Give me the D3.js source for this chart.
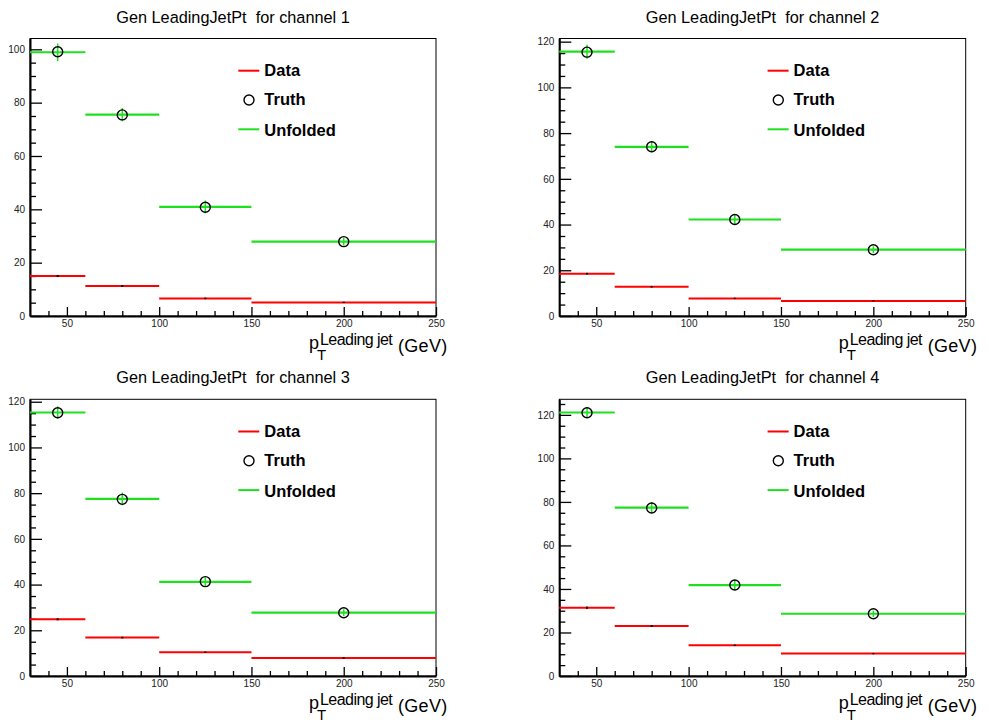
<!DOCTYPE html>
<html><head><meta charset="utf-8">
<script src="https://cdn.jsdelivr.net/npm/d3@7"></script>
<style>
body{margin:0;background:#fff}
svg{display:block}
text{font-family:"Liberation Sans",Arial,Helvetica,sans-serif}
</style>
</head><body>
<svg id="c" width="989" height="722"></svg>
<script>
// ---------------- data ----------------
const binEdges = [30, 60, 100, 150, 250];
const xTickValues = [50, 100, 150, 200, 250];
const titles = ["Gen LeadingJetPt  for channel 1", "Gen LeadingJetPt  for channel 2",
                "Gen LeadingJetPt  for channel 3", "Gen LeadingJetPt  for channel 4"];
const legendLabels = ["Data", "Truth", "Unfolded"];

const dataCh1 = [15.0, 11.25, 6.6, 5.1];
const dataErrCh1 = [0.4, 0.35, 0.3, 0.25];
const truthCh1 = [99.1, 75.4, 40.8, 27.9];
const unfoldedCh1 = [98.9, 75.5, 40.9, 27.9];
const unfoldedErrCh1 = [3.3, 2.5, 2.4, 1.5];

const dataCh2 = [18.5, 12.8, 7.7, 6.6];
const dataErrCh2 = [0.4, 0.35, 0.3, 0.25];
const truthCh2 = [115.4, 74.0, 42.2, 29.0];
const unfoldedCh2 = [115.6, 74.0, 42.2, 29.0];
const unfoldedErrCh2 = [3.1, 2.4, 2.4, 1.5];

const dataCh3 = [24.8, 16.8, 10.4, 7.9];
const dataErrCh3 = [0.45, 0.4, 0.3, 0.3];
const truthCh3 = [115.2, 77.3, 41.3, 27.7];
const unfoldedCh3 = [115.3, 77.5, 41.2, 27.7];
const unfoldedErrCh3 = [2.7, 2.8, 2.0, 1.5];

const dataCh4 = [31.4, 23.0, 14.1, 10.3];
const dataErrCh4 = [0.5, 0.45, 0.35, 0.3];
const truthCh4 = [121.0, 77.2, 41.8, 28.6];
const unfoldedCh4 = [121.1, 77.4, 41.8, 28.6];
const unfoldedErrCh4 = [2.4, 2.5, 2.3, 1.5];

const channels = [
  {title: titles[0], data: dataCh1, dataErr: dataErrCh1, truth: truthCh1, unf: unfoldedCh1, unfErr: unfoldedErrCh1},
  {title: titles[1], data: dataCh2, dataErr: dataErrCh2, truth: truthCh2, unf: unfoldedCh2, unfErr: unfoldedErrCh2},
  {title: titles[2], data: dataCh3, dataErr: dataErrCh3, truth: truthCh3, unf: unfoldedCh3, unfErr: unfoldedErrCh3},
  {title: titles[3], data: dataCh4, dataErr: dataErrCh4, truth: truthCh4, unf: unfoldedCh4, unfErr: unfoldedErrCh4}
];

// ---------------- layout ----------------
const frames = [
  {left: 30, right: 436, top: 38.5, bottom: 316},
  {left: 559.3, right: 965.7, top: 38.5, bottom: 316},
  {left: 30, right: 436, top: 399.3, bottom: 676},
  {left: 559.3, right: 965.7, top: 399.3, bottom: 676}
];
const RED = "#ff0000", GREEN = "#1fe01f";

const svg = d3.select("#c");

channels.forEach((ch, i) => {
  const f = frames[i];
  const g = svg.append("g");
  const yMax = 1.05 * d3.max(ch.truth.concat(ch.unf));
  const x = d3.scaleLinear().domain([binEdges[0], binEdges[binEdges.length - 1]]).range([f.left, f.right]);
  const y = d3.scaleLinear().domain([0, yMax]).range([f.bottom, f.top]);

  // title
  g.append("text").attr("x", (f.left + f.right) / 2).attr("y", f.top - 16)
    .attr("text-anchor", "middle").style("white-space", "pre")
    .attr("font-size", 16.3).attr("fill", "#000").text(ch.title);

  // frame
  g.append("rect").attr("x", f.left).attr("y", f.top)
    .attr("width", f.right - f.left).attr("height", f.bottom - f.top)
    .attr("fill", "none").attr("stroke", "#000").attr("stroke-width", 1);

  // y axis
  const yMajor = d3.range(0, yMax, 20);
  const yMinor = d3.range(0, yMax, 5).filter(v => v % 20 !== 0);
  const yAx = g.append("g").attr("transform", `translate(${f.left},0)`)
    .call(d3.axisLeft(y).tickValues(yMajor).tickSizeInner(-12).tickSizeOuter(0).tickPadding(5));
  yAx.select(".domain").attr("stroke-width", 2);
  yAx.selectAll(".tick line").attr("stroke-width", 1.3);
  yAx.selectAll("text").attr("font-size", 10).attr("fill", "#222").style("font-family", "'Liberation Sans',Arial,sans-serif");
  const yAxMin = g.append("g").attr("transform", `translate(${f.left},0)`)
    .call(d3.axisLeft(y).tickValues(yMinor).tickSizeInner(-6).tickSizeOuter(0).tickFormat(""));
  yAxMin.select(".domain").remove();
  yAxMin.selectAll(".tick line").attr("stroke-width", 1.3);

  // x axis
  const xMinor = d3.range(40, 250, 10).filter(v => v % 50 !== 0);
  const xAx = g.append("g").attr("transform", `translate(0,${f.bottom})`)
    .call(d3.axisBottom(x).tickValues(xTickValues).tickSizeInner(-9).tickSizeOuter(0).tickPadding(4));
  xAx.select(".domain").attr("stroke-width", 2);
  xAx.selectAll(".tick line").attr("stroke-width", 1.3);
  xAx.selectAll("text").attr("font-size", 10).attr("fill", "#222").style("font-family", "'Liberation Sans',Arial,sans-serif");
  const xAxMin = g.append("g").attr("transform", `translate(0,${f.bottom})`)
    .call(d3.axisBottom(x).tickValues(xMinor).tickSizeInner(-5).tickSizeOuter(0).tickFormat(""));
  xAxMin.select(".domain").remove();
  xAxMin.selectAll(".tick line").attr("stroke-width", 1.3);

  const bins = ch.data.map((d, k) => ({lo: binEdges[k], hi: binEdges[k + 1], c: (binEdges[k] + binEdges[k + 1]) / 2,
    data: d, dataErr: ch.dataErr[k], truth: ch.truth[k], unf: ch.unf[k], unfErr: ch.unfErr[k]}));

  // data (red)
  g.selectAll(".dh").data(bins).join("line")
    .attr("x1", b => x(b.lo)).attr("x2", b => x(b.hi))
    .attr("y1", b => y(b.data)).attr("y2", b => y(b.data))
    .attr("stroke", RED).attr("stroke-width", 2);
  g.selectAll(".de").data(bins).join("line")
    .attr("x1", b => x(b.c)).attr("x2", b => x(b.c))
    .attr("y1", b => y(b.data - b.dataErr)).attr("y2", b => y(b.data + b.dataErr))
    .attr("stroke", "#000").attr("stroke-width", 2);

  // unfolded (green)
  g.selectAll(".uh").data(bins).join("line")
    .attr("x1", b => x(b.lo)).attr("x2", b => x(b.hi))
    .attr("y1", b => y(b.unf)).attr("y2", b => y(b.unf))
    .attr("stroke", GREEN).attr("stroke-width", 2.2);
  g.selectAll(".ue").data(bins).join("line")
    .attr("x1", b => x(b.c)).attr("x2", b => x(b.c))
    .attr("y1", b => y(b.unf - b.unfErr)).attr("y2", b => y(b.unf + b.unfErr))
    .attr("stroke", GREEN).attr("stroke-width", 1.5);

  // truth circles
  g.selectAll(".tc").data(bins).join("circle")
    .attr("cx", b => x(b.c)).attr("cy", b => y(b.truth)).attr("r", 5)
    .attr("fill", "none").attr("stroke", "#000").attr("stroke-width", 1.4);

  // legend
  const lx = f.left + 208.3, ly = f.top;
  const lg = g.append("g");
  lg.append("line").attr("x1", lx).attr("x2", lx + 21).attr("y1", ly + 32.2).attr("y2", ly + 32.2)
    .attr("stroke", RED).attr("stroke-width", 2);
  lg.append("circle").attr("cx", lx + 10.7).attr("cy", ly + 61.5).attr("r", 5)
    .attr("fill", "none").attr("stroke", "#000").attr("stroke-width", 1.4);
  lg.append("line").attr("x1", lx).attr("x2", lx + 21).attr("y1", ly + 90.8).attr("y2", ly + 90.8)
    .attr("stroke", GREEN).attr("stroke-width", 2);
  [37.5, 66.8, 97.2].forEach((dy, k) => {
    lg.append("text").attr("x", lx + 26).attr("y", ly + dy)
      .attr("font-size", 16.5).attr("font-weight", "bold").attr("fill", "#000").text(legendLabels[k]);
  });

  // x-axis title  p_T^{Leading jet} (GeV) as one text element
  const R = f.right, B = f.bottom;
  const xt = g.append("text").attr("x", R - 127).attr("y", B + 33).attr("fill", "#000");
  xt.append("tspan").attr("font-size", 18).text("p");
  xt.append("tspan").attr("x", R - 119).attr("dy", 10.5).attr("font-size", 15).text("T");
  xt.append("tspan").attr("x", R - 116).attr("dy", -15).attr("font-size", 16)
    .style("letter-spacing", "-0.55px").text("Leading jet");
  xt.append("tspan").attr("x", R - 38).attr("dy", 7).attr("font-size", 18)
    .style("letter-spacing", "0.3px").text("(GeV)");
});
</script>
</body></html>
